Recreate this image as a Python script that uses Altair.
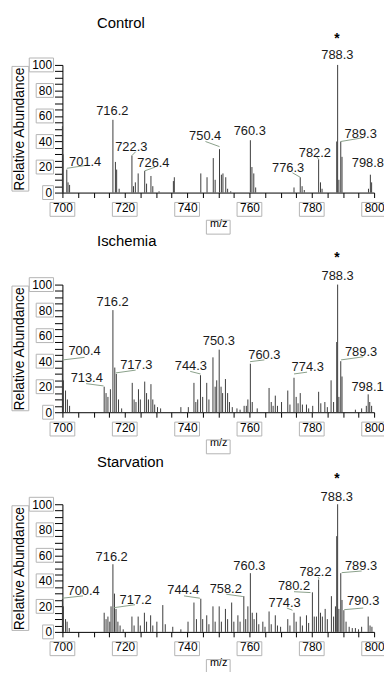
import altair as alt
import pandas as pd

panel_titles = ["Control", "Ischemia", "Starvation"]
x_tick_values = list(range(700, 801, 5))
y_tick_values = list(range(0, 101, 5))
x_tick_labels = [700, 720, 740, 760, 780, 800]
y_tick_labels = [0, 20, 40, 60, 80, 100]

# (m/z, relative abundance) peaks
control_peaks = [
    (700.0, 52), (700.2, 30), (701.4, 18), (701.8, 8), (702.3, 6),
    (716.2, 57), (717.0, 24), (717.4, 18), (718.2, 3),
    (722.3, 29), (722.8, 5), (723.4, 8), (724.3, 15),
    (726.4, 17), (727.0, 7), (728.4, 13), (729.0, 5), (731.0, 1),
    (735.6, 9), (735.9, 12),
    (744.4, 15), (746.4, 12), (748.4, 27), (749.0, 10), (750.4, 34),
    (751.0, 14), (751.5, 15), (752.4, 12), (753.0, 3), (754.0, 1),
    (760.3, 41), (760.8, 20), (761.4, 15), (762.0, 4),
    (774.3, 4), (776.3, 12), (776.9, 5), (777.6, 2),
    (782.2, 26), (782.8, 8), (783.3, 3),
    (788.0, 40), (788.3, 100), (788.7, 10), (789.3, 40), (789.7, 28),
    (798.2, 3), (798.8, 14), (799.2, 8),
]
ischemia_peaks = [
    (700.0, 40), (700.3, 25), (701.0, 17), (701.6, 10), (702.3, 5),
    (713.4, 20), (714.0, 15), (714.6, 12), (715.4, 18), (716.2, 80),
    (716.8, 35), (717.3, 30), (718.0, 10), (719.0, 3),
    (722.4, 23), (723.0, 10), (723.6, 8), (724.4, 18), (725.0, 10),
    (726.4, 24), (727.0, 15), (727.6, 10), (728.4, 22), (729.0, 10),
    (729.6, 6), (730.5, 4), (731.5, 3), (738.0, 4), (740.4, 4),
    (742.2, 23), (742.8, 8), (743.4, 10), (744.3, 29), (745.0, 12),
    (746.3, 23), (747.0, 10), (748.3, 43), (749.0, 20), (749.5, 25),
    (750.3, 49), (750.9, 20), (751.4, 15), (752.3, 26), (753.0, 15),
    (753.6, 8), (754.5, 4), (756.0, 3), (757.0, 2), (758.3, 5),
    (759.0, 5), (759.5, 10), (760.3, 38), (760.9, 8), (762.5, 3),
    (766.3, 19), (767.0, 8), (767.6, 5), (768.3, 13), (769.0, 5),
    (770.3, 8), (772.3, 17), (773.0, 6), (774.3, 27), (775.0, 12),
    (775.6, 7), (776.3, 15), (777.0, 6), (778.3, 6), (779.0, 3),
    (780.3, 5), (782.2, 16), (782.9, 7), (784.2, 8), (785.0, 4),
    (786.2, 25), (787.0, 8), (788.0, 55), (788.3, 100), (788.7, 12),
    (789.3, 40), (789.7, 28), (794.0, 2), (796.0, 3), (797.5, 5),
    (798.1, 14), (798.6, 8), (799.2, 5),
]
starvation_peaks = [
    (700.0, 26), (700.3, 20), (701.0, 10), (701.5, 8), (702.2, 3),
    (713.4, 15), (714.0, 10), (714.6, 12), (715.2, 8), (715.6, 20),
    (716.2, 53), (716.7, 30), (717.2, 18), (717.8, 8), (718.5, 5),
    (719.5, 2), (722.3, 12), (723.0, 5), (724.3, 12), (725.0, 5),
    (726.3, 15), (727.0, 8), (728.3, 13), (729.0, 5), (730.3, 8),
    (732.2, 21), (733.0, 6), (735.4, 4), (738.0, 2), (740.3, 8),
    (742.2, 23), (743.0, 10), (744.4, 26), (745.0, 10), (746.3, 13),
    (747.0, 6), (748.3, 20), (749.0, 8), (750.3, 20), (751.0, 8),
    (752.3, 18), (753.0, 10), (754.3, 23), (755.0, 8), (756.3, 13),
    (757.0, 8), (758.2, 28), (758.8, 10), (759.5, 20), (760.3, 46),
    (760.9, 15), (761.5, 10), (762.3, 15), (763.0, 6), (764.3, 8),
    (765.0, 4), (766.3, 16), (767.0, 6), (768.3, 13), (769.0, 5),
    (770.0, 4), (772.3, 10), (773.0, 5), (774.3, 15), (775.0, 8),
    (776.3, 12), (777.0, 5), (778.3, 13), (779.0, 7), (780.2, 31),
    (780.8, 12), (781.5, 12), (782.2, 41), (782.8, 15), (783.4, 12),
    (784.3, 18), (785.0, 10), (786.3, 28), (787.0, 12), (787.6, 20),
    (788.0, 75), (788.3, 100), (788.7, 18), (789.3, 46), (789.7, 25),
    (790.3, 17), (791.0, 8), (792.0, 4), (793.0, 3), (794.0, 3),
    (795.0, 2), (796.0, 4), (798.1, 12), (798.7, 5), (799.3, 4),
]

# peak labels: (text, m/z position, abundance position)
control_labels = [
    ("701.4", 707.3, 24), ("716.2", 716.0, 64), ("722.3", 722.1, 36),
    ("726.4", 729.2, 23), ("750.4", 745.8, 44), ("760.3", 760.1, 48),
    ("776.3", 772.4, 19.6), ("782.2", 781.0, 31), ("788.3", 788.2, 108),
    ("789.3", 795.7, 46), ("798.8", 798.0, 23),
]
ischemia_labels = [
    ("700.4", 707.1, 47.6), ("713.4", 707.8, 27), ("716.2", 716.1, 86),
    ("717.3", 723.7, 37), ("744.3", 741.2, 36), ("750.3", 750.2, 56),
    ("760.3", 764.8, 44.7), ("774.3", 778.7, 35.7), ("788.3", 788.3, 106.4),
    ("789.3", 795.8, 47.3), ("798.1", 797.9, 19.8),
]
starvation_labels = [
    ("700.4", 706.8, 32.3), ("716.2", 715.8, 58.5), ("717.2", 723.5, 25),
    ("744.4", 738.8, 32.8), ("758.2", 752.4, 33.6), ("760.3", 760.0, 51.5),
    ("774.3", 771.3, 22.6), ("780.2", 774.3, 36), ("782.2", 781.2, 47),
    ("788.3", 788.0, 106), ("789.3", 795.8, 51.5), ("790.3", 796.5, 23.8),
]
# asterisk above the base peak: (m/z, abundance)
star_positions = [(788.1, 120), (788.1, 121), (788.1, 120)]

# leader lines: (m/z1, abundance1, m/z2, abundance2)
control_leaders = [
    (701.4, 19, 707.8, 21.4), (722.3, 29, 723.5, 32), (726.4, 17, 729.8, 20),
    (750.4, 36, 745.9, 40), (776.3, 12, 773.8, 15.5), (782.2, 26, 781.6, 28),
    (789.3, 40, 796.5, 43),
]
ischemia_leaders = [
    (700.2, 41, 707.1, 43), (707.6, 22.4, 713.2, 20.6), (717.1, 30.8, 723.5, 33),
    (741.0, 32, 744.3, 30), (760.2, 39.6, 764.8, 41), (774.3, 30, 778.5, 31.4),
    (789.4, 41, 796.5, 43.4),
]
starvation_leaders = [
    (700.0, 26.4, 706.6, 28.2), (716.6, 19, 723.3, 21.3), (739.0, 28.2, 744.1, 26.4),
    (752.6, 29.5, 757.9, 27.7), (774.3, 31.5, 779.6, 30.8), (772.0, 18.7, 773.8, 17),
    (782.0, 43, 782.4, 41.5), (789.6, 46.4, 796.0, 47.7), (790.4, 17.4, 796.5, 18.7),
]

FONT = "Liberation Sans"
BOX = "#b4b4b4"
PW, PH = 315, 129
xscale = alt.Scale(domain=[700, 800], nice=False, zero=False)
yscale = alt.Scale(domain=[0, 100], nice=False, zero=True)
LABEL_EXPR = "datum.value % 20 == 0 ? datum.label : ''"

x_axis = alt.Axis(
    values=x_tick_values, labelExpr=LABEL_EXPR,
    tickSize=5, labelPadding=5, titleFontSize=11, titlePadding=4,
)
y_axis = alt.Axis(
    values=y_tick_values, labelExpr=LABEL_EXPR,
    tickSize=8, labelPadding=3, titleFontSize=14, titlePadding=5,
)
X_TITLE = "m/z"
Y_TITLE = "Relative Abundance"

# label frames (custom symbol paths, drawn at unit scale with size=4)
XBOX = "M -12.5 -7 L 12.5 -7 L 12.5 7 L -12.5 7 Z"
YBOX = {
    "1": "M -20 -7 L -9 -7 L -9 7 L -20 7 Z",
    "2": "M -26.5 -7 L -9 -7 L -9 7 L -26.5 7 Z",
    "3": "M -33.5 -7 L -9 -7 L -9 7 L -33.5 7 Z",
}
XTITLE_BOX = "M -12 -7 L 12 -7 L 12 7 L -12 7 Z"
YTITLE_BOX = "M -8.5 -63 L 8.5 -63 L 8.5 63 L -8.5 63 Z"


def enc_x(field):
    return alt.X(field, scale=xscale, axis=x_axis, title=X_TITLE)


def enc_y(field):
    return alt.Y(field, scale=yscale, axis=y_axis, title=Y_TITLE)


def panel(title, peaks, labels, leaders, star):
    pk = pd.DataFrame(peaks, columns=["mz", "ab"])
    pk["base"] = 0
    lb = pd.DataFrame(labels, columns=["text", "lx", "ly"])
    ld = pd.DataFrame(leaders, columns=["x1", "y1", "x2", "y2"])
    st = pd.DataFrame([{"sx": star[0], "sy": star[1], "t": "*"}])
    xb = pd.DataFrame({"v": x_tick_labels})
    yb = pd.DataFrame({"v": y_tick_labels, "nd": [str(len(str(v))) for v in y_tick_labels]})

    sticks = alt.Chart(pk).mark_rule(color="#3c3c3c", strokeWidth=1).encode(
        x=enc_x("mz:Q"), y=enc_y("ab:Q"), y2="base:Q",
    )
    leads = alt.Chart(ld).mark_rule(color="#8aa08a", strokeWidth=1).encode(
        x=enc_x("x1:Q"), x2="x2:Q", y=enc_y("y1:Q"), y2="y2:Q",
    )
    texts = alt.Chart(lb).mark_text(
        font=FONT, fontSize=13, color="#1a1a1a", align="center", baseline="middle"
    ).encode(x=enc_x("lx:Q"), y=enc_y("ly:Q"), text="text:N")
    stars = alt.Chart(st).mark_text(
        font=FONT, fontSize=14, fontWeight="bold", color="black",
        align="center", baseline="middle"
    ).encode(x=enc_x("sx:Q"), y=enc_y("sy:Q"), text="t:N")

    xboxes = alt.Chart(xb).mark_point(
        shape=XBOX, size=4, filled=False, stroke=BOX, strokeWidth=1, opacity=1
    ).encode(x=enc_x("v:Q"), y=alt.value(PH + 17))
    yboxes = alt.Chart(yb).mark_point(
        filled=False, stroke=BOX, strokeWidth=1, opacity=1, size=4
    ).encode(
        y=enc_y("v:Q"), x=alt.value(0),
        shape=alt.Shape("nd:N", scale=alt.Scale(domain=list(YBOX.keys()),
                                                range=list(YBOX.values())),
                        legend=None),
    )
    xtbox = alt.Chart(xb).mark_point(
        shape=XTITLE_BOX, size=4, filled=False, stroke=BOX, strokeWidth=1, opacity=1
    ).encode(x=alt.value(PW / 2), y=alt.value(PH + 35)).transform_filter("datum.v == 700")
    ytbox = alt.Chart(xb).mark_point(
        shape=YTITLE_BOX, size=4, filled=False, stroke=BOX, strokeWidth=1, opacity=1
    ).encode(x=alt.value(-42.5), y=alt.value(PH / 2)).transform_filter("datum.v == 700")

    return alt.layer(sticks, leads, xboxes, yboxes, xtbox, ytbox, texts, stars).properties(
        width=PW, height=PH,
        title=alt.TitleParams(
            title, anchor="start", frame="group", dx=35, offset=2,
            font=FONT, fontSize=15, fontWeight="normal", color="black",
        ),
    )


chart = alt.vconcat(
    panel(panel_titles[0], control_peaks, control_labels, control_leaders, star_positions[0]),
    panel(panel_titles[1], ischemia_peaks, ischemia_labels, ischemia_leaders, star_positions[1]),
    panel(panel_titles[2], starvation_peaks, starvation_labels, starvation_leaders, star_positions[2]),
    spacing=93,
    bounds="flush",
).properties(
    padding={"left": 2, "top": 4, "right": -5, "bottom": -7},
    background="white",
).configure_view(
    stroke=None
).configure_axis(
    labelOverlap=False, labelFlush=False, grid=False,
    tickColor="black", domainColor="black", domainWidth=1, tickWidth=1,
    labelColor="black", labelFont=FONT, labelFontSize=12,
    titleFont=FONT, titleFontWeight="normal", titleColor="black",
)

chart.save("out.html", embed_options={"renderer": "svg", "actions": False})
